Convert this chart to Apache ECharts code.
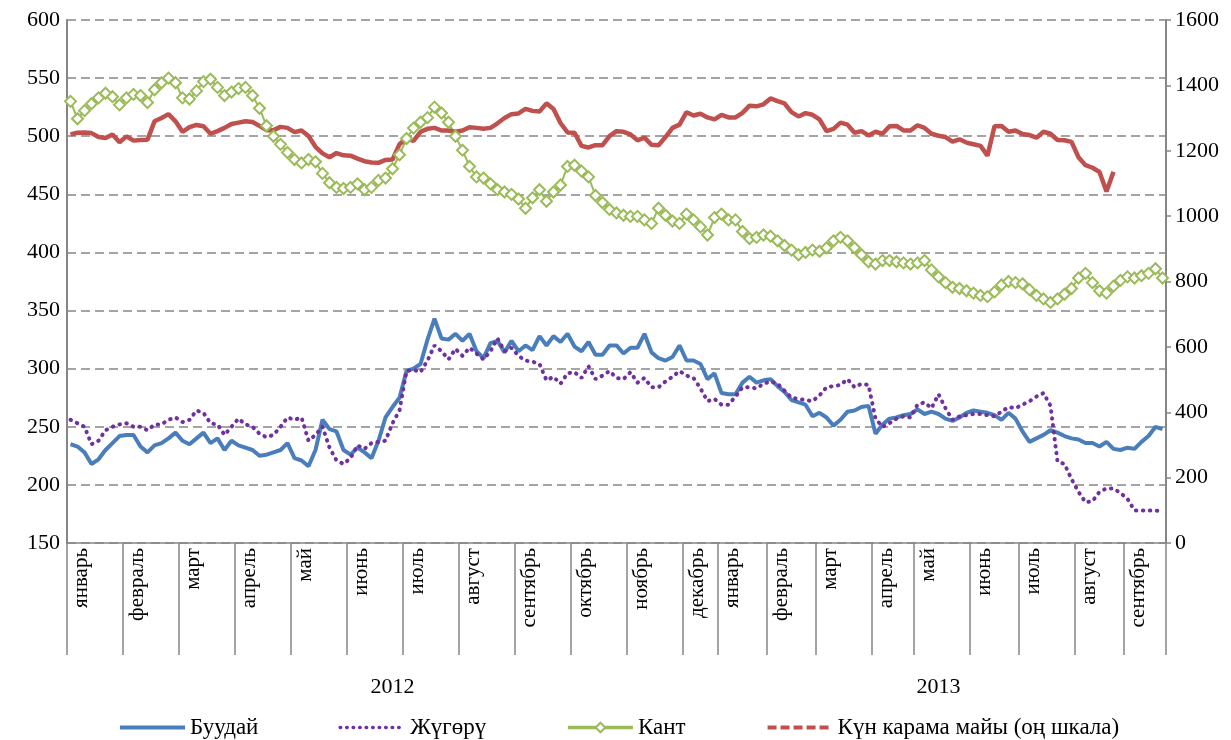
<!DOCTYPE html>
<html>
<head>
<meta charset="utf-8">
<script src="https://cdn.jsdelivr.net/npm/echarts@6/dist/echarts.min.js"></script>
<style>
  html, body { margin: 0; padding: 0; background: #fff; }
  #chart { width: 1231px; height: 740px; }
</style>
</head>
<body>
<div id="chart"></div>
<script>
// месяцы по оси X и число точек в каждом месяце
const monthNames = ['январь', 'февраль', 'март', 'апрель', 'май', 'июнь', 'июль', 'август', 'сентябрь', 'октябрь', 'ноябрь', 'декабрь',
  'январь', 'февраль', 'март', 'апрель', 'май', 'июнь', 'июль', 'август', 'сентябрь'];
const monthYears = [2012, 2012, 2012, 2012, 2012, 2012, 2012, 2012, 2012, 2012, 2012, 2012,
  2013, 2013, 2013, 2013, 2013, 2013, 2013, 2013, 2013];
const monthPoints = [8, 8, 8, 8, 8, 8, 8, 8, 8, 8, 8, 5, 7, 7, 8, 6, 8, 7, 8, 7, 6];

const leftTicks = [150, 600, 50];
const rightTicks = [0, 1600, 200];

// Буудай
const wheat = [235, 233, 228, 218, 222, 230, 236, 242, 243, 243, 233, 228, 234, 236, 240, 245, 238, 235, 240, 245,
  236, 240, 230, 238, 234, 232, 230, 225, 226, 228, 230, 236, 223, 221, 216, 230, 256, 248, 246, 230,
  226, 232, 228, 223, 238, 258, 267, 275, 298, 300, 304, 325, 343, 326, 325, 330, 324, 330, 315, 309,
  322, 324, 314, 324, 315, 320, 316, 328, 320, 328, 323, 330, 319, 315, 323, 312, 312, 320, 320, 313,
  318, 318, 330, 314, 309, 307, 310, 320, 307, 307, 304, 291, 296, 279, 278, 278, 288, 293, 288, 290,
  291, 285, 280, 273, 271, 269, 259, 262, 258, 251, 256, 263, 264, 267, 268, 244, 252, 257, 258, 260,
  261, 265, 261, 263, 261, 257, 255, 258, 262, 264, 263, 262, 260, 256, 262, 257, 246, 237, 240, 243,
  247, 245, 242, 240, 239, 236, 236, 233, 237, 231, 230, 232, 231, 237, 242, 250, 248];

// Жүгөрү
const corn = [256, 253, 250, 235, 238, 247, 250, 252, 253, 250, 250, 247, 252, 252, 256, 258, 254, 256, 264, 262,
  253, 252, 243, 250, 257, 252, 250, 244, 241, 243, 250, 258, 256, 258, 238, 243, 250, 232, 221, 218,
  223, 234, 231, 236, 237, 238, 253, 264, 298, 299, 297, 307, 320, 315, 308, 317, 311, 318, 313, 308,
  315, 326, 315, 318, 311, 307, 306, 304, 290, 293, 287, 296, 297, 292, 302, 291, 294, 298, 292, 291,
  297, 288, 292, 284, 284, 289, 293, 298, 294, 292, 283, 272, 274, 269, 269, 276, 284, 284, 283, 287,
  289, 287, 281, 275, 274, 273, 272, 277, 284, 285, 286, 291, 284, 287, 286, 257, 250, 253, 257, 259,
  258, 269, 271, 266, 278, 266, 256, 259, 260, 261, 261, 260, 259, 263, 267, 266, 269, 272, 276, 279,
  268, 220, 218, 205, 194, 185, 186, 194, 197, 197, 193, 188, 178, 178, 178, 178, 177];

// Кант
const sugar = [530, 515, 522, 528, 533, 537, 534, 527, 533, 536, 535, 529, 540, 546, 550, 546, 533, 532, 539, 547,
  549, 542, 535, 538, 541, 542, 535, 524, 509, 500, 493, 486, 480, 477, 480, 478, 468, 460, 456, 455,
  456, 459, 454, 456, 462, 464, 472, 484, 498, 507, 512, 516, 525, 520, 512, 500, 488, 474, 465, 464,
  459, 454, 452, 450, 446, 438, 447, 454, 444, 452, 458, 474, 475, 470, 465, 449, 443, 437, 434, 432,
  431, 431, 428, 425, 438, 432, 427, 425, 433, 428, 422, 415, 430, 433, 428, 428, 418, 412, 413, 415,
  414, 410, 406, 402, 398, 400, 402, 401, 404, 410, 413, 410, 404, 398, 392, 390, 393, 393, 392, 391,
  390, 391, 393, 385, 379, 374, 370, 369, 367, 365, 363, 362, 366, 372, 375, 374, 373, 368, 363, 360,
  357, 360, 364, 369, 378, 382, 374, 367, 365, 371, 376, 379, 378, 380, 382, 386, 378];

// Күн карама майы (оң шкала)
const oil = [1250, 1255, 1256, 1254, 1242, 1239, 1250, 1226, 1244, 1231, 1233, 1234, 1290, 1300, 1312, 1290, 1258, 1272, 1279, 1275,
  1252, 1260, 1270, 1282, 1286, 1290, 1288, 1276, 1263, 1263, 1273, 1270, 1257, 1262, 1245, 1212, 1192, 1180, 1193, 1186,
  1185, 1176, 1168, 1164, 1163, 1172, 1173, 1220, 1238, 1230, 1258, 1267, 1270, 1262, 1262, 1258, 1262, 1272, 1270, 1267,
  1270, 1284, 1300, 1312, 1314, 1328, 1322, 1320, 1345, 1328, 1285, 1256, 1255, 1215, 1210, 1217, 1217, 1245, 1260, 1258,
  1250, 1232, 1240, 1218, 1217, 1242, 1270, 1280, 1318, 1308, 1313, 1302, 1296, 1310, 1302, 1302, 1316, 1338, 1336, 1342,
  1360, 1352, 1345, 1318, 1305, 1315, 1310, 1296, 1260, 1267, 1286, 1280, 1255, 1260, 1247, 1258, 1252, 1275, 1276, 1262,
  1262, 1278, 1270, 1252, 1246, 1242, 1228, 1235, 1225, 1220, 1215, 1185, 1275, 1276, 1258, 1262, 1251, 1248, 1240, 1258,
  1252, 1233, 1232, 1227, 1180, 1156, 1148, 1135, 1075, 1136];

const seriesNames = ['Буудай', 'Жүгөрү', 'Кант', 'Күн карама майы (оң шкала)'];

// категории: "месяц|год|n", метки только в начале месяца
const categories = [];
const monthStarts = new Set();
const yearFirst = {}, yearLast = {};
monthNames.forEach((m, k) => {
  const y = monthYears[k];
  monthStarts.add(categories.length);
  for (let j = 0; j < monthPoints[k]; j++) {
    if (yearFirst[y] === undefined) yearFirst[y] = categories.length;
    yearLast[y] = categories.length;
    categories.push(m + '|' + y + '|' + categories.length);
  }
});
const yearCenters = new Set(Object.keys(yearFirst).map(y => Math.floor((yearFirst[y] + yearLast[y]) / 2)));

const gray = '#868686';
const font = 'Liberation Serif';
const noSymbol = { opacity: 0 };

const chart = echarts.init(document.getElementById('chart'));
chart.setOption({
  animation: false,
  textStyle: { fontFamily: font, color: '#000' },
  grid: { left: 67, right: 65, top: 20, bottom: 197 },
  legend: {
    left: 113,
    top: 711,
    itemWidth: 65,
    itemHeight: 12,
    itemGap: 80,
    textStyle: { fontFamily: font, fontSize: 23, color: '#000' },
    data: [
      { name: seriesNames[0], itemStyle: noSymbol, lineStyle: { width: 4 } },
      { name: seriesNames[1], itemStyle: noSymbol, lineStyle: { width: 3.5, type: [0.5, 6], cap: 'round' } },
      { name: seriesNames[2], lineStyle: { width: 3.5 } },
      { name: seriesNames[3], itemStyle: noSymbol, lineStyle: { width: 4, type: [9, 4] } }
    ]
  },
  xAxis: [
    {
      type: 'category',
      data: categories,
      boundaryGap: true,
      axisLine: { show: true, lineStyle: { color: gray, width: 1.5 } },
      axisTick: {
        show: true,
        length: 112,
        interval: (i) => monthStarts.has(i),
        lineStyle: { color: gray, width: 1.5 }
      },
      axisLabel: {
        interval: (i) => monthStarts.has(i),
        rotate: 90,
        verticalAlign: 'top',
        margin: 5,
        fontSize: 21,
        fontFamily: font,
        color: '#000',
        formatter: (v) => v.split('|')[0]
      },
      splitLine: { show: false }
    },
    {
      type: 'category',
      data: categories,
      position: 'bottom',
      boundaryGap: true,
      axisLine: { show: false },
      axisTick: { show: false },
      axisLabel: {
        interval: (i) => yearCenters.has(i),
        margin: 133,
        fontSize: 22,
        fontFamily: font,
        color: '#000',
        formatter: (v) => v.split('|')[1]
      },
      splitLine: { show: false }
    }
  ],
  yAxis: [
    {
      type: 'value',
      min: leftTicks[0],
      max: leftTicks[1],
      interval: leftTicks[2],
      axisLine: { show: true, lineStyle: { color: gray, width: 2 } },
      axisTick: { show: false },
      axisLabel: { fontSize: 22, fontFamily: font, color: '#000', margin: 7 },
      splitLine: { show: true, lineStyle: { color: gray, width: 1.5, type: [9, 5] } }
    },
    {
      type: 'value',
      min: rightTicks[0],
      max: rightTicks[1],
      interval: rightTicks[2],
      position: 'right',
      axisLine: { show: true, lineStyle: { color: gray, width: 2 } },
      axisTick: { show: true, length: 5, lineStyle: { color: gray, width: 1.5 } },
      axisLabel: { fontSize: 22, fontFamily: font, color: '#000', margin: 9, formatter: (v) => String(v) },
      splitLine: { show: false }
    }
  ],
  series: [
    {
      name: seriesNames[0],
      type: 'line',
      data: wheat,
      symbol: 'none',
      color: '#4a7ebb',
      lineStyle: { color: '#4a7ebb', width: 4 }
    },
    {
      name: seriesNames[1],
      type: 'line',
      data: corn,
      symbol: 'none',
      color: '#7030a0',
      lineStyle: { color: '#7030a0', width: 4, type: [0.5, 6.5], cap: 'round' }
    },
    {
      name: seriesNames[2],
      type: 'line',
      data: sugar,
      symbol: 'emptyDiamond',
      symbolSize: 11,
      showAllSymbol: true,
      color: '#9bbb59',
      itemStyle: { color: '#9bbb59', borderWidth: 1.5 },
      lineStyle: { color: '#9bbb59', width: 2 }
    },
    {
      name: seriesNames[3],
      type: 'line',
      yAxisIndex: 1,
      data: oil,
      symbol: 'none',
      color: '#c0504d',
      lineStyle: { color: '#c0504d', width: 4.5 }
    }
  ]
});
</script>
</body>
</html>
